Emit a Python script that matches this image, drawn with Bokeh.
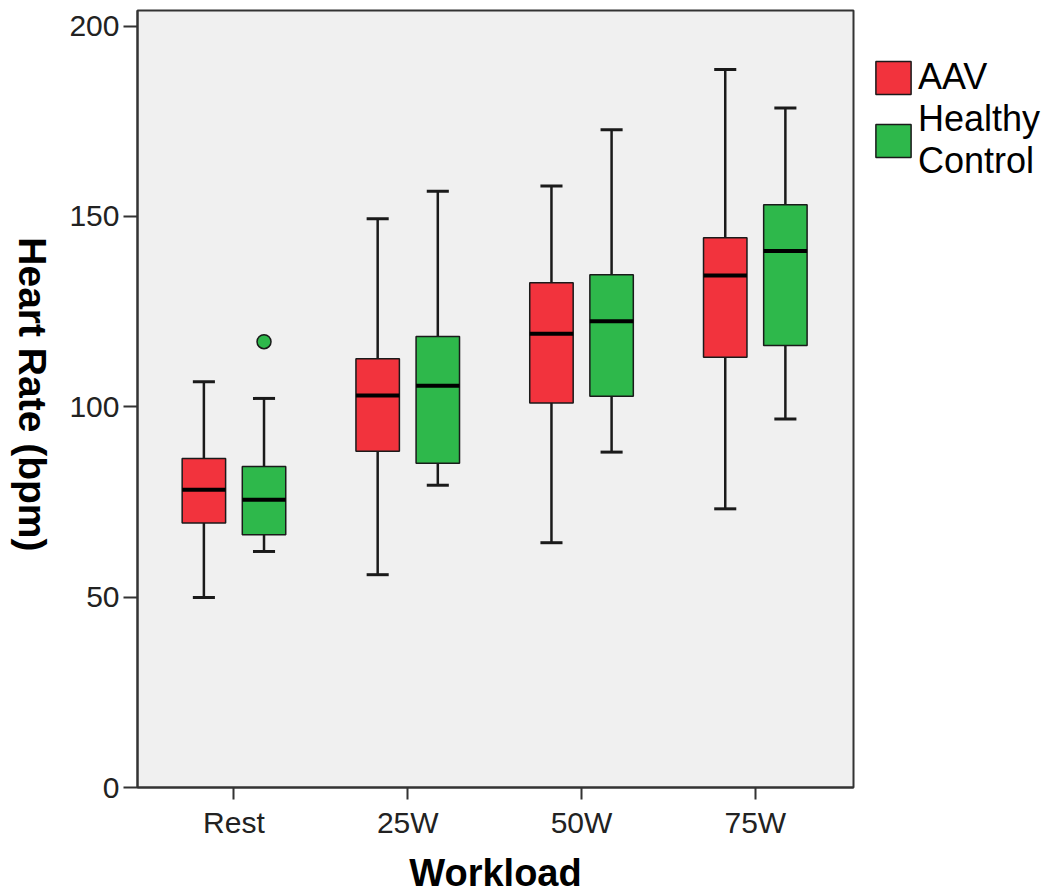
import math
from bokeh.plotting import figure
from bokeh.layouts import row
from bokeh.models import (ColumnDataSource, Range1d, FixedTicker, Legend,
                          LegendItem)
from bokeh.core.properties import value
from bokeh.transform import dodge
from bokeh.embed import file_html
from bokeh.resources import INLINE

categories = ["Rest", "25W", "50W", "75W"]
aav_low = [49.9, 55.9, 64.3, 73.2]
aav_q1 = [69.5, 88.3, 101.0, 113.0]
aav_med = [78.2, 103.0, 119.2, 134.5]
aav_q3 = [86.4, 112.6, 132.6, 144.4]
aav_high = [106.6, 149.4, 158.0, 188.6]
hc_low = [62.0, 79.4, 88.1, 96.8]
hc_q1 = [66.4, 85.2, 102.8, 116.1]
hc_med = [75.6, 105.5, 122.5, 140.9]
hc_q3 = [84.3, 118.5, 134.7, 153.1]
hc_high = [102.2, 156.6, 172.8, 178.5]
hc_outlier_cat = ["Rest"]
hc_outlier_val = [117.1]
y_title = "Heart Rate (bpm)"
x_title = "Workload"

RED = "#F2333D"
GREEN = "#2EB84B"
EDGE = "#1a1a1a"
FONT = "Liberation Sans"

idx = list(range(len(categories)))

# narrow strip holding the y title (reads top to bottom)
t = figure(width=65, height=892, x_range=Range1d(0, 65), y_range=Range1d(0, 892),
           min_border=0, outline_line_color=None, x_axis_location=None,
           y_axis_location=None, toolbar_location=None, output_backend="svg")
t.xgrid.visible = False
t.ygrid.visible = False
t.text(x=[32], y=[892 - 443], text=[y_title], angle=-math.pi / 2,
       text_align="center", text_baseline="middle",
       text_font=value(FONT), text_font_style="bold",
       text_font_size="39px", text_color="black")

p = figure(frame_width=716, frame_height=777,
           x_range=Range1d(-0.555, 3.565), y_range=Range1d(0, 204.1),
           min_border_left=72, min_border_right=193,
           min_border_top=10, min_border_bottom=105,
           background_fill_color="#F0F0F0", border_fill_color="white",
           outline_line_color="#333333", outline_line_width=2,
           toolbar_location=None, output_backend="svg")
p.xgrid.visible = False
p.ygrid.visible = False

OFF = 0.173
BW = 0.25
CAP = 0.127


def draw(vals_low, vals_q1, vals_med, vals_q3, vals_high, offset, color):
    src = ColumnDataSource(dict(x=idx, low=vals_low, q1=vals_q1, med=vals_med,
                                q3=vals_q3, high=vals_high))
    xd = dodge("x", offset)
    xl = dodge("x", offset - CAP / 2)
    xr = dodge("x", offset + CAP / 2)
    bl = dodge("x", offset - BW / 2)
    br = dodge("x", offset + BW / 2)
    p.segment(x0=xd, y0="q3", x1=xd, y1="high", source=src,
              line_color=EDGE, line_width=2.5)
    p.segment(x0=xd, y0="low", x1=xd, y1="q1", source=src,
              line_color=EDGE, line_width=2.5)
    p.segment(x0=xl, y0="high", x1=xr, y1="high", source=src,
              line_color=EDGE, line_width=3)
    p.segment(x0=xl, y0="low", x1=xr, y1="low", source=src,
              line_color=EDGE, line_width=3)
    r = p.vbar(x=xd, width=BW, top="q3", bottom="q1", source=src,
               fill_color=color, line_color=EDGE, line_width=1.5)
    p.segment(x0=bl, y0="med", x1=br, y1="med", source=src,
              line_color="black", line_width=4)
    return r


r_aav = draw(aav_low, aav_q1, aav_med, aav_q3, aav_high, -OFF, RED)
r_hc = draw(hc_low, hc_q1, hc_med, hc_q3, hc_high, OFF, GREEN)

out_src = ColumnDataSource(dict(x=[categories.index(c) for c in hc_outlier_cat],
                                y=hc_outlier_val))
p.scatter(x=dodge("x", OFF), y="y", source=out_src, size=14,
          fill_color=GREEN, line_color=EDGE, line_width=1.5)

for ax in (p.xaxis[0], p.yaxis[0]):
    ax.axis_line_color = "#333333"
    ax.axis_line_width = 2
    ax.major_tick_line_color = "#333333"
    ax.major_tick_line_width = 2
    ax.major_tick_in = 0
    ax.minor_tick_line_color = None
    ax.major_label_text_font = FONT
    ax.major_label_text_font_size = "30px"
    ax.major_label_text_color = "#222222"
    ax.axis_label_text_font = FONT
    ax.axis_label_text_font_style = "bold"
    ax.axis_label_text_color = "black"

p.xaxis.ticker = FixedTicker(ticks=idx)
p.xaxis.major_label_overrides = {i: c for i, c in zip(idx, categories)}
p.xaxis.major_tick_out = 12
p.xaxis.major_label_standoff = 6
p.xaxis.axis_label = x_title
p.xaxis.axis_label_text_font_size = "38px"
p.xaxis.axis_label_standoff = 10

p.yaxis.ticker = FixedTicker(ticks=[0, 50, 100, 150, 200])
p.yaxis.major_tick_out = 14
p.yaxis.major_label_standoff = 4

legend = Legend(items=[LegendItem(label="AAV", renderers=[r_aav]),
                       LegendItem(label="Healthy\nControl", renderers=[r_hc])],
                location=(18, 605), margin=0, padding=0,
                glyph_width=44, glyph_height=41, label_standoff=3,
                label_text_font=FONT, label_text_font_size="36px",
                label_text_color="black", spacing=-5,
                background_fill_alpha=0, border_line_color=None)
p.add_layout(legend, "right")

layout = row(t, p, spacing=0)
open("out.html", "w").write(file_html(layout, INLINE))
